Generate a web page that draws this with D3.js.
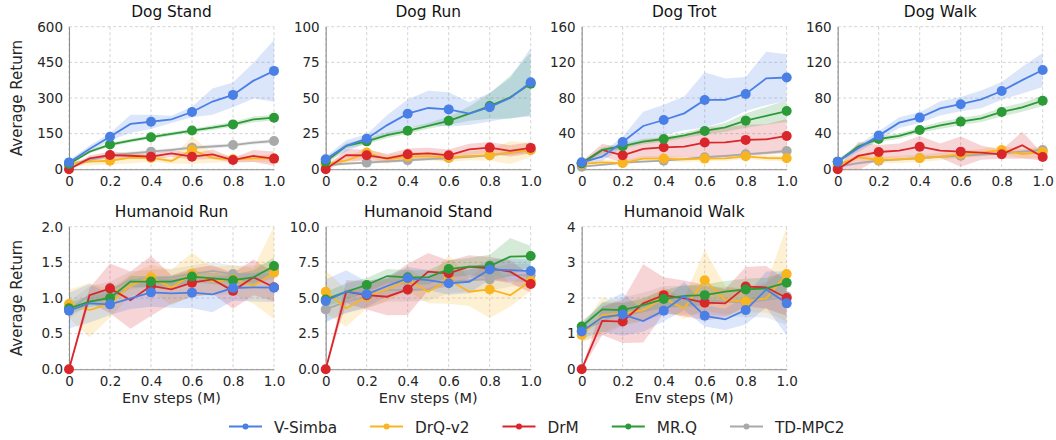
<!DOCTYPE html>
<html><head><meta charset="utf-8">
<script src="https://cdn.jsdelivr.net/npm/d3@7"></script>
<style>body{margin:0;background:#fff}svg{display:block;font-family:"DejaVu Sans",sans-serif}</style>
</head><body><svg id="c" width="1056" height="440"></svg>
<script>
const xSteps = [0,0.1,0.2,0.3,0.4,0.5,0.6,0.7,0.8,0.9,1.0];
const xTicks = [0,0.2,0.4,0.6,0.8,1.0];
const seriesNames = ["V-Simba","DrQ-v2","DrM","MR.Q","TD-MPC2"];
const seriesColors = ["#4a80e6","#f9b520","#d9262b","#2c9a37","#a9a9a9"];
const panelTitles = ["Dog Stand","Dog Run","Dog Trot","Dog Walk","Humanoid Run","Humanoid Stand","Humanoid Walk"];
const yMaxes = [600,100,160,160,2,10,4];
const yTickSets = [[0,150,300,450,600],[0,25,50,75,100],[0,40,80,120,160],[0,40,80,120,160],[0,0.5,1,1.5,2],[0,2.5,5,7.5,10],[0,1,2,3,4]];

// means per series, in order V-Simba, DrQ-v2, DrM, MR.Q, TD-MPC2
const dogStandMean = [
 [29,85,137,191,200,210,241,285,313,373,414],
 [21,32,36,49,48,35,81,48,42,46,45],
 [0,46,60,57,53,67,53,63,39,56,45],
 [22,74,104,121,135,149,163,175,189,210,217],
 [20,40,59,67,74,82,91,96,102,112,119]];
const dogStandSpread = [
 [8,15,15,38,30,15,22,55,52,75,130],
 [10,15,15,25,15,12,58,20,12,15,15],
 [3,12,15,12,12,15,12,20,10,25,30],
 [5,6,8,8,8,8,8,10,10,12,12],
 [5,8,8,8,8,8,8,8,8,8,8]];
const dogRunMean = [
 [7,16.4,21.5,31,39,43,42,39,43.5,50,61],
 [4,6,11.7,7,8.9,9.3,8.2,9.3,10,11.7,13.5],
 [0,10,9.8,7.7,10.5,11.2,9.8,14,15.2,12.9,15],
 [5.4,16.4,19.6,24,27,30.4,34,39,44.4,50.5,60],
 [3,4,4.7,5.5,6.3,7.1,8,8.8,9.8,11.5,13.5]];
const dogRunSpread = [
 [2,4,3,7,10,12,12,8,10,14,24],
 [2,3,3,3,3,3,3,3,4,8,5],
 [1,4,4,3,4,4,4,4,4,4,4],
 [2,2,2,2,2,2,3,5,9,15,22],
 [1,1,1,1,1,1,1,1,1,1.5,2]];
const dogTrotMean = [
 [7.9,14.2,30.6,48.6,55.3,62.8,77.8,77.8,84.5,102,103],
 [6,7.8,7,12,12,11.2,12,12.3,14.6,12.7,12.3],
 [6.7,21.7,15.7,23,24.7,25.4,30,30.3,33,33.6,37.4],
 [6.7,21.7,26,31,34,38,43,47,54.6,60,65.4],
 [3,5,7.5,8.5,9.7,11.5,13.5,15,16.8,18.5,20.6]];
const dogTrotSpread = [
 [2,5,6,16,17,19,31,24,19,30,26],
 [2,3,3,3,3,3,3,3,3,3,3],
 [2,7,8,10,12,12,17,17,17,17,19],
 [2,3,3,3,3,3,4,5,8,10,12],
 [1,1,1,1,1,1,1,1,1.5,1.5,2]];
const dogWalkMean = [
 [8.6,23.5,37.8,52.3,58,68.4,73,78.5,87.9,100,111.4],
 [5,13.5,10.5,11.2,12.3,14.2,16.8,18.7,21.7,17.2,19.4],
 [0,15,19.4,21,25.4,21,19.8,18.7,16.8,27,13.8],
 [8.6,25.4,34,37.4,44,49.3,53.5,57.2,64.3,69.5,77],
 [3,7,9.7,11.2,12.7,14,15.3,16.6,18,19.8,21.7]];
const dogWalkSpread = [
 [2,4,5,6,6,8,8,10,10,15,19],
 [2,4,4,4,4,4,4,4,5,5,7],
 [1,16,8,8,12,8,17,8,5,15,4],
 [2,3,3,3,3,4,4,4,5,5,6],
 [1,1.5,1.5,1.5,1.5,1.5,1.5,1.5,1.5,1.5,2]];
const humRunMean = [
 [0.822,0.925,0.911,0.995,1.079,1.065,1.075,1.05,1.14,1.15,1.145],
 [0.916,0.83,0.925,1.18,1.29,1.145,1.336,1.23,1.26,1.17,1.355],
 [0,1.04,1.135,0.97,1.17,1.12,1.215,1.26,1.10,1.29,1.15],
 [0.855,0.95,1.0,1.23,1.23,1.23,1.3,1.275,1.25,1.29,1.45],
 [0.83,1.04,1.11,1.25,1.275,1.29,1.335,1.38,1.335,1.335,1.39]];
const humRunSpread = [
 [0.25,0.27,0.15,0.15,0.2,0.2,0.22,0.25,0.18,0.2,0.2],
 [0.2,0.38,0.2,0.15,0.18,0.25,0.3,0.2,0.2,0.25,0.65],
 [0.02,0.1,0.35,0.4,0.42,0.2,0.2,0.2,0.25,0.25,0.2],
 [0.08,0.08,0.08,0.08,0.08,0.08,0.08,0.08,0.08,0.1,0.12],
 [0.12,0.12,0.12,0.12,0.12,0.12,0.12,0.12,0.12,0.12,0.12]];
const humStandMean = [
 [4.79,5.44,5.26,5.84,6.38,6.26,6.03,6.14,7.0,6.96,6.89],
 [5.44,4.28,5.09,5.6,6.3,5.44,6.3,5.44,5.6,5.2,6.19],
 [0,5.44,5.2,5.09,5.6,6.85,6.73,7.2,7.08,6.85,5.98],
 [4.9,5.44,5.91,6.54,6.45,6.45,7.03,7.2,7.24,7.9,7.94],
 [4.2,4.74,5.09,5.56,5.56,5.6,6.14,6.26,6.3,6.6,6.6]];
const humStandSpread = [
 [1.5,1.5,0.9,0.7,0.8,0.7,0.8,0.8,0.7,0.8,0.8],
 [1.5,1.3,0.8,0.8,0.8,0.8,1.7,1.0,2.0,0.8,0.7],
 [0.05,0.8,1.0,1.3,1.8,1.3,0.9,0.8,0.8,0.8,0.6],
 [0.5,0.6,0.5,0.5,0.5,0.5,0.6,0.6,0.8,1.3,0.7],
 [0.8,0.8,0.8,0.8,0.8,0.8,0.8,0.8,0.8,0.8,0.8]];
const humWalkMean = [
 [1.06,1.46,1.54,1.355,1.645,2.056,1.5,1.4,1.66,2.24,1.85],
 [0.96,1.52,1.57,1.66,1.99,1.71,2.5,1.94,1.9,1.99,2.67],
 [0,1.36,1.34,1.85,2.08,1.99,1.87,1.85,2.32,2.3,2.0],
 [1.2,1.68,1.66,1.8,1.97,2.06,2.08,2.18,2.24,2.27,2.43],
 [1.08,1.35,1.62,1.75,1.94,1.94,1.94,1.9,1.87,1.95,2.04]];
const humWalkSpread = [
 [0.2,0.4,0.6,0.3,0.3,0.4,0.3,0.3,0.4,0.5,0.9],
 [0.2,0.5,0.3,0.3,0.3,0.3,0.85,0.4,0.3,0.4,1.33],
 [0.02,0.4,0.6,1.1,0.5,0.5,0.5,0.4,0.55,0.6,0.5],
 [0.1,0.2,0.2,0.2,0.25,0.3,0.3,0.3,0.3,0.3,0.3],
 [0.3,0.4,0.4,0.4,0.4,0.4,0.4,0.4,0.4,0.5,0.8]];

const panelMeans = [dogStandMean,dogRunMean,dogTrotMean,dogWalkMean,humRunMean,humStandMean,humWalkMean];
const panelSpreads = [dogStandSpread,dogRunSpread,dogTrotSpread,dogWalkSpread,humRunSpread,humStandSpread,humWalkSpread];

const svg = d3.select("#c");
const W = 205, H = 142.6;
const colX = [69, 325.7, 581.7, 837.7];
const rowY = [26.7, 226.7];
const drawOrder = [4,1,2,3,0];
const textCol = "#262626";

panelTitles.forEach((title, p) => {
  const row = p < 4 ? 0 : 1, col = p < 4 ? p : p - 4;
  const g = svg.append("g").attr("transform", `translate(${colX[col]},${rowY[row]})`);
  const x = d3.scaleLinear().domain([0,1]).range([0,W]);
  const y = d3.scaleLinear().domain([0,yMaxes[p]]).range([H,0]);
  const clipId = "clip" + p;
  g.append("clipPath").attr("id", clipId).append("rect").attr("x",0).attr("y",0).attr("width",W).attr("height",H);

  // grid
  const grid = g.append("g");
  xTicks.forEach(t => grid.append("line").attr("x1",x(t)).attr("x2",x(t)).attr("y1",0).attr("y2",H)
    .attr("stroke","#c8c8c8").attr("stroke-width",0.8).attr("stroke-dasharray","3,2.5"));
  yTickSets[p].forEach(t => grid.append("line").attr("x1",0).attr("x2",W).attr("y1",y(t)).attr("y2",y(t))
    .attr("stroke","#c8c8c8").attr("stroke-width",0.8).attr("stroke-dasharray","3,2.5"));

  // axes
  const isDecimal = [4,5].includes(p);
  const yAxis = d3.axisLeft(y).tickValues(yTickSets[p]).tickSize(0).tickPadding(6)
    .tickFormat(d => isDecimal ? d3.format(".1f")(d) : d3.format("d")(d));
  const xAxis = d3.axisBottom(x).tickValues(xTicks).tickSize(0).tickPadding(7)
    .tickFormat(d => d === 0 ? "0" : d3.format(".1f")(d));
  const ya = g.append("g").call(yAxis);
  const xa = g.append("g").attr("transform",`translate(0,${H})`).call(xAxis);
  [ya, xa].forEach(a => {
    a.select(".domain").attr("stroke","#8c8c8c").attr("stroke-width",1.1);
    a.selectAll("text").attr("font-size",13.5).attr("fill",textCol).attr("font-family","DejaVu Sans");
  });

  const means = panelMeans[p], spreads = panelSpreads[p];
  const area = d3.area().x((d,i)=>x(xSteps[i])).y0(d=>y(d[0]-d[1])).y1(d=>y(d[0]+d[1]));
  const line = d3.line().x((d,i)=>x(xSteps[i])).y(d=>y(d));
  const bands = g.append("g").attr("clip-path",`url(#${clipId})`);
  drawOrder.forEach(s => {
    bands.append("path").datum(means[s].map((m,i)=>[m,spreads[s][i]]))
      .attr("d", area).attr("fill", seriesColors[s]).attr("fill-opacity", 0.2).attr("stroke","none");
  });
  drawOrder.forEach(s => {
    g.append("path").datum(means[s]).attr("d", line).attr("fill","none")
      .attr("stroke", seriesColors[s]).attr("stroke-width",1.8);
    g.append("g").selectAll("circle").data(xTicks).join("circle")
      .attr("cx", t => x(t)).attr("cy", t => y(means[s][xSteps.findIndex(v => Math.abs(v-t)<1e-9)]))
      .attr("r", 5).attr("fill", seriesColors[s]);
  });

  g.append("text").attr("x", W/2).attr("y", -10).attr("text-anchor","middle")
    .attr("font-size",15.4).attr("fill","#111").text(title);
  if (col === 0) {
    g.append("text").attr("transform",`translate(-47,${H/2}) rotate(-90)`).attr("text-anchor","middle")
      .attr("font-size",15).attr("fill",textCol).text("Average Return");
  }
  if (row === 1) {
    g.append("text").attr("x", W/2).attr("y", H + 34).attr("text-anchor","middle")
      .attr("font-size",14.5).attr("fill",textCol).text("Env steps (M)");
  }
});

// legend
const leg = svg.append("g").attr("transform","translate(229,426.5)");
let lx = 0;
seriesNames.forEach((name, s) => {
  const it = leg.append("g").attr("transform",`translate(${lx},0)`);
  it.append("line").attr("x1",0).attr("x2",33).attr("y1",0).attr("y2",0).attr("stroke",seriesColors[s]).attr("stroke-width",1.8);
  it.append("circle").attr("cx",16.5).attr("cy",0).attr("r",3).attr("fill",seriesColors[s]);
  const t = it.append("text").attr("x",45).attr("y",6).attr("font-size",15.3).attr("fill",textCol).text(name);
  lx += 45 + t.node().getComputedTextLength() + 33;
});
</script></body></html>
